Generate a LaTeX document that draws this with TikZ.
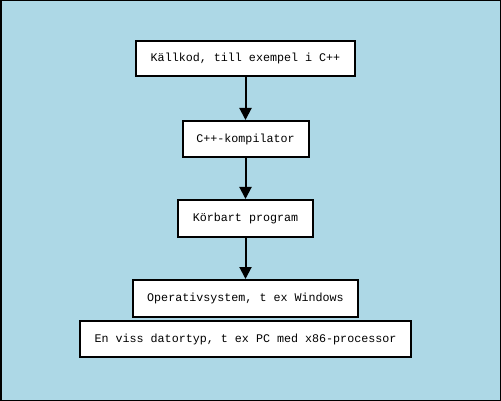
\documentclass[tikz,border=0pt]{standalone}
\usepackage{fontspec}
\newfontfamily\monof{Liberation Mono}
\usetikzlibrary{arrows.meta}
\begin{document}
\begin{tikzpicture}[x=1pt,y=-1pt,
  box/.style={draw=black,line width=2pt,fill=white,inner sep=0pt,font=\monof\fontsize{11.7}{13}\selectfont},
  conn/.style={line width=2pt,-{Triangle[length=12pt,width=12pt]}}]
\definecolor{bg}{RGB}{173,216,230}
\draw[fill=bg,draw=black,line width=1.5pt] (0.75,0.75) rectangle (500.25,400.25);
\useasboundingbox (0,0) rectangle (501,401);
\node[box,minimum width=219pt,minimum height=35pt] (a) at (245.5,58.5) {Källkod, till exempel i C++};
\node[box,minimum width=126pt,minimum height=36pt] (b) at (245.5,139) {C++-kompilator};
\node[box,minimum width=135pt,minimum height=37pt] (c) at (245.5,218.5) {Körbart program};
\node[box,minimum width=225pt,minimum height=37pt] (d) at (245.5,298.5) {Operativsystem, t ex Windows};
\node[box,minimum width=331pt,minimum height=36pt] (e) at (245.5,339) {En viss datortyp, t ex PC med x86-processor};
\draw[conn] (a) -- (b);
\draw[conn] (b) -- (c);
\draw[conn] (c) -- (d);
\end{tikzpicture}
\end{document}
